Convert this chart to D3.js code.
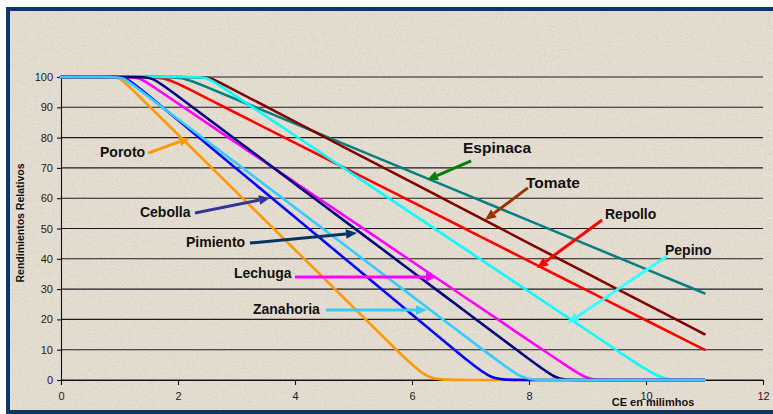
<!DOCTYPE html>
<html>
<head>
<meta charset="utf-8">
<script src="https://cdn.jsdelivr.net/npm/d3@7"></script>
<style>
  html, body { margin: 0; padding: 0; background: #ffffff; }
  svg { display: block; font-family: "Liberation Sans", Arial, sans-serif; }
</style>
</head>
<body>
<svg id="chart" width="773" height="414"></svg>
<script>
// Relative yield (%) versus soil salinity (CE, mmhos/cm) for nine crops.
// Each series is the yield polyline as [CE, rendimiento] pairs: flat at 100 up to
// the tolerance threshold, a straight decline, and 0 once the crop fails.
// The polyline is drawn as a smoothed curve, so its corners come out rounded.
const poroto    = [[0,100],[0.85,100],[1.0,100],[1.2,96.2],[2,81],[3,62],[4,43],[5,24],[5.7,10.6],[6.26,0],[6.6,0],[11,0]];
const cebolla   = [[0,100],[0.9,100],[1.11,100],[1.4,95.4],[2,85.8],[3,69.7],[4,53.7],[5,37.7],[6,21.6],[6.75,9.6],[7.35,0],[7.65,0],[11,0]];
const zanahoria = [[0,100],[0.9,100],[1.05,100],[1.25,97.1],[2,86.1],[3,71.5],[4,56.9],[5,42.3],[6,27.7],[7.35,8],[7.9,0],[8.15,0],[11,0]];
const pimiento  = [[0,100],[1.3,100],[1.56,100],[1.85,95.8],[3,79.2],[4,64.7],[5,50.3],[6,35.8],[7,21.4],[8.0,6.9],[8.48,0],[8.7,0],[11,0]];
const lechuga   = [[0,100],[1.15,100],[1.33,100],[1.6,96.5],[2,91.3],[3,78.2],[4,65.2],[5,52.2],[6,39.1],[7,26.1],[8,13.0],[8.55,5.9],[9.0,0],[9.25,0],[11,0]];
const pepino    = [[0,100],[2.3,100],[2.5,100],[2.8,96.1],[4,80.7],[5,67.8],[6,54.9],[7,42],[8,29.2],[9,16.3],[9.6,8.5],[10.26,0],[10.6,0],[11,0]];
const repollo   = [[0,100],[1.4,100],[1.775,100],[2.2,95.9],[3,88],[4,78.3],[5,68.5],[6,58.8],[7,49],[8,39.2],[9,29.5],[10,19.7],[11,10]];
const tomate    = [[0,100],[2.35,100],[2.53,100],[2.75,97.8],[4,85.3],[5,75.2],[6,65.2],[7,55.2],[8,45.1],[9,35.1],[10,25.1],[11,15.1]];
const espinaca  = [[0,100],[1.8,100],[2.08,100],[2.5,96.6],[3,92.6],[4,84.6],[5,76.6],[6,68.6],[7,60.6],[8,52.6],[9,44.6],[10,36.6],[11,28.6]];

const xTicks = [0, 2, 4, 6, 8, 10, 12];
const yTicks = [0, 10, 20, 30, 40, 50, 60, 70, 80, 90, 100];

// Drawing order (last one ends up on top).
const series = [
  { name: "Espinaca",  data: espinaca,  color: "#008080" },
  { name: "Tomate",    data: tomate,    color: "#800000" },
  { name: "Repollo",   data: repollo,   color: "#ff0000" },
  { name: "Pepino",    data: pepino,    color: "#00ffff" },
  { name: "Lechuga",   data: lechuga,   color: "#ff00ff" },
  { name: "Pimiento",  data: pimiento,  color: "#000080" },
  { name: "Poroto",    data: poroto,    color: "#ff9900" },
  { name: "Cebolla",   data: cebolla,   color: "#0000ff" },
  { name: "Zanahoria", data: zanahoria, color: "#33ccff" }
];

// Callout labels: text anchor, arrow tail and arrow tip, in chart units.
const callouts = [
  { text: "Poroto",    at: [0.667, 75.2], from: [1.49, 74.9],  to: [2.205, 79.9], color: "#ff9900", size: 14 },
  { text: "Cebolla",   at: [1.350, 55.4], from: [2.29, 55.1],  to: [3.573, 60.1], color: "#333399", size: 14 },
  { text: "Pimiento",  at: [2.137, 45.5], from: [3.23, 45.2],  to: [5.060, 48.5], color: "#003366", size: 14 },
  { text: "Lechuga",   at: [2.957, 35.3], from: [4.00, 34.0],  to: [6.427, 34.0], color: "#ff00ff", size: 14 },
  { text: "Zanahoria", at: [3.282, 23.4], from: [4.53, 23.1],  to: [6.256, 23.1], color: "#33ccff", size: 14 },
  { text: "Espinaca",  at: [6.872, 76.6], from: [7.01, 72.3],  to: [6.256, 66.0], color: "#008000", size: 15.5 },
  { text: "Tomate",    at: [7.949, 65.0], from: [7.98, 63.4],  to: [7.248, 52.8], color: "#993300", size: 15.5 },
  { text: "Repollo",   at: [9.299, 54.8], from: [9.25, 52.8],  to: [8.137, 37.0], color: "#ff0000", size: 14 },
  { text: "Pepino",    at: [10.325, 42.9], from: [10.36, 40.9], to: [8.667, 18.8], color: "#33ffff", size: 14 }
];

const svg = d3.select("#chart");
const W = 773;

// Paper-like chart area with a thin grain and a navy frame.
const defs = svg.append("defs");
const grain = defs.append("filter").attr("id", "grain")
  .attr("x", 0).attr("y", 0).attr("width", "100%").attr("height", "100%");
grain.append("feTurbulence").attr("type", "fractalNoise")
  .attr("baseFrequency", 0.75).attr("numOctaves", 3).attr("seed", 7);
grain.append("feColorMatrix").attr("type", "matrix")
  .attr("values", "0 0 0 0 0.5  0 0 0 0 0.46  0 0 0 0 0.42  3.2 0 0 0 -1.75");

svg.append("rect").attr("x", 8).attr("y", 9).attr("width", W + 10).attr("height", 402)
  .attr("fill", "#e6ddd1");
svg.append("rect").attr("x", 10).attr("y", 11).attr("width", W).attr("height", 399)
  .attr("filter", "url(#grain)").attr("opacity", 0.55);
svg.append("rect").attr("x", 8).attr("y", 9).attr("width", W + 10).attr("height", 403)
  .attr("fill", "none").attr("stroke", "#0a376a").attr("stroke-width", 4);

const x = d3.scaleLinear().domain([0, 12]).range([61, 763]);
const y = d3.scaleLinear().domain([0, 100]).range([380, 77]);

// Horizontal gridlines.
svg.append("g").selectAll("line").data(yTicks).join("line")
  .attr("x1", x(0)).attr("x2", x(12))
  .attr("y1", d => y(d)).attr("y2", d => y(d))
  .attr("stroke", "#1c1c1c").attr("stroke-width", 1.1);

// Axes.
const yAxis = svg.append("g").attr("transform", `translate(${x(0)},0)`)
  .call(d3.axisLeft(y).tickValues(yTicks).tickSize(4).tickSizeOuter(0).tickPadding(4));
const xAxis = svg.append("g").attr("transform", `translate(0,${y(0)})`)
  .call(d3.axisBottom(x).tickValues(xTicks).tickSize(5).tickSizeOuter(0).tickPadding(7));
[yAxis, xAxis].forEach(g => {
  g.selectAll("path, line").attr("stroke", "#111").attr("stroke-width", 1.1);
  g.selectAll("text").attr("font-size", 11).attr("fill", "#1a1a1a")
    .attr("font-family", "'Liberation Sans', Arial, sans-serif");
});

// Axis titles.
svg.append("text")
  .attr("transform", "translate(24,223) rotate(-90)")
  .attr("text-anchor", "middle").attr("font-size", 10.5).attr("font-weight", "bold")
  .attr("fill", "#111").text("Rendimientos Relativos");
svg.append("text").attr("x", 653).attr("y", 406)
  .attr("text-anchor", "middle").attr("font-size", 11).attr("font-weight", "bold")
  .attr("fill", "#111").text("CE en milimhos");

// Yield curves.
const line = d3.line().x(d => x(d[0])).y(d => y(d[1])).curve(d3.curveBasis);
svg.append("g").selectAll("path").data(series).join("path")
  .attr("d", d => line(d.data))
  .attr("fill", "none").attr("stroke", d => d.color)
  .attr("stroke-width", 2.6).attr("stroke-linejoin", "round").attr("stroke-linecap", "round");

// Callout labels with arrows.
const cg = svg.append("g");
callouts.forEach(c => {
  const x0 = x(c.from[0]), y0 = y(c.from[1]);
  const x1 = x(c.to[0]),   y1 = y(c.to[1]);
  const a = Math.atan2(y1 - y0, x1 - x0);
  const headLen = 11, headHalf = 4.8;
  const bx = x1 - headLen * Math.cos(a), by = y1 - headLen * Math.sin(a);
  cg.append("line").attr("x1", x0).attr("y1", y0).attr("x2", bx).attr("y2", by)
    .attr("stroke", c.color).attr("stroke-width", 3);
  const px = -Math.sin(a) * headHalf, py = Math.cos(a) * headHalf;
  cg.append("path")
    .attr("d", `M${x1},${y1}L${bx + px},${by + py}L${bx - px},${by - py}Z`)
    .attr("fill", c.color);
  cg.append("text").attr("x", x(c.at[0])).attr("y", y(c.at[1])).attr("dy", "0.35em")
    .attr("font-size", c.size).attr("font-weight", "bold").attr("fill", "#111")
    .text(c.text);
});
</script>
</body>
</html>
